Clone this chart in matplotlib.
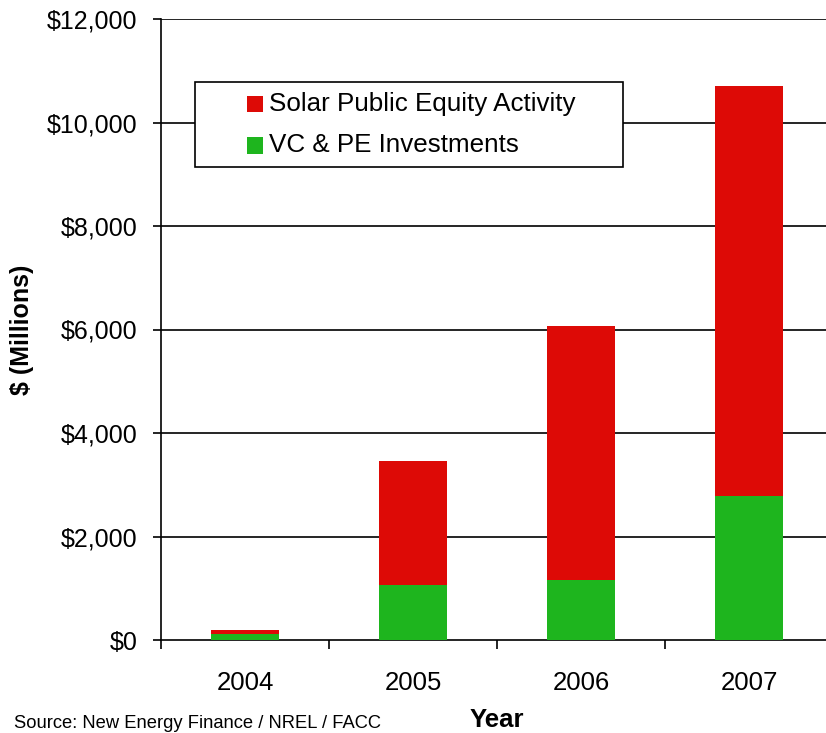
import matplotlib
matplotlib.use("Agg")
import matplotlib.pyplot as plt
from matplotlib.patches import Rectangle
import numpy as np

years = ["2004", "2005", "2006", "2007"]
vc_pe = [125, 1060, 1160, 2780]
public_equity_total = [200, 3460, 6060, 10710]
public_equity = [t - v for t, v in zip(public_equity_total, vc_pe)]
yticks = [0, 2000, 4000, 6000, 8000, 10000, 12000]
ytick_labels = ["$0", "$2,000", "$4,000", "$6,000", "$8,000", "$10,000", "$12,000"]
series_labels = ["Solar Public Equity Activity", "VC & PE Investments"]

plt.rcParams['font.family'] = ['Liberation Sans', 'DejaVu Sans']

W, H = 826, 733
fig = plt.figure(figsize=(W/100, H/100), dpi=100)
x0, x1 = 161, 833
y0, y1 = 640, 19
ax = fig.add_axes([x0/W, 1 - y0/H, (x1 - x0)/W, (y0 - y1)/H])

red = "#DD0A06"
green = "#1EB51E"
x = np.arange(len(years))
bw = 0.405
ax.bar(x, vc_pe, bw, color=green, zorder=3)
ax.bar(x, public_equity, bw, bottom=vc_pe, color=red, zorder=3)

ax.set_ylim(0, 12000)
ax.set_xlim(-0.5, len(years) - 0.5)
ax.set_yticks(yticks)
ax.set_yticklabels(ytick_labels, fontsize=18)
for y in yticks[1:]:
    ax.axhline(y, color="black", lw=1.2, zorder=1)

ax.set_xticks(x)
ax.set_xticklabels(years, fontsize=18.5)
ax.tick_params(axis='x', length=0, pad=22)
ax.set_xticks(np.arange(len(years) + 1) - 0.5, minor=True)
ax.tick_params(axis='x', which='minor', length=6.5, width=1.2, direction='out')
ax.tick_params(axis='y', length=6, width=1.2, direction='out', pad=11)

for s in ["top", "right"]:
    ax.spines[s].set_visible(False)
ax.spines["left"].set_linewidth(1.2)
ax.spines["bottom"].set_linewidth(1.2)

ax.set_ylabel("$ (Millions)", fontsize=18, fontweight='bold', labelpad=9)

# manual legend in figure pixel coords
def fx(px):
    return px / W
def fy(py):
    return 1 - py / H

fig.patches.append(Rectangle((fx(195), fy(167)), fx(623) - fx(195), fy(82) - fy(167),
                             transform=fig.transFigure, facecolor='white',
                             edgecolor='black', lw=1.2, zorder=10))
for lab, col, yc in [(series_labels[0], red, 104), (series_labels[1], green, 145.5)]:
    fig.patches.append(Rectangle((fx(247), fy(yc + 8)), fx(16), 16 / H,
                                 transform=fig.transFigure, facecolor=col,
                                 edgecolor='none', zorder=11))
    fig.text(fx(269), fy(yc), lab, fontsize=18.7, ha='left', va='center', zorder=12)

fig.text(497/W, 1 - 720/H, "Year", fontsize=18.5, fontweight='bold', ha='center', va='center')
fig.text(14/W, 1 - 724/H, "Source: New Energy Finance / NREL / FACC", fontsize=13.2, ha='left', va='center')

fig.savefig("out.png", dpi=100)
